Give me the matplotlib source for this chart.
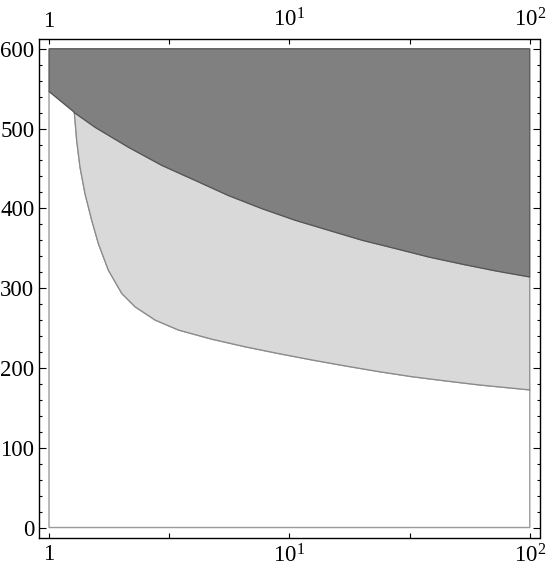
import numpy as np
import matplotlib
matplotlib.use("Agg")
import matplotlib.pyplot as plt

plt.rcParams['font.family'] = ['Liberation Serif', 'DejaVu Serif']
plt.rcParams['mathtext.fontset'] = 'custom'
plt.rcParams['mathtext.rm'] = 'Liberation Serif'
plt.rcParams['mathtext.it'] = 'Liberation Serif:italic'

# Upper boundary (start of dark region)
upper_x = [1.0, 1.262, 1.275, 1.555, 2.140, 2.949, 4.058, 5.586, 7.696, 10.59,
           14.58, 20.09, 27.65, 38.05, 52.44, 72.17, 100.0]
upper_y = [546.6, 521.6, 520.0, 501.6, 476.6, 453.8, 435, 416, 399.6, 385,
           372.5, 360, 349.6, 339, 330, 321.6, 314]

# Lower boundary (start of light region)
lower_x = [1.275, 1.304, 1.346, 1.413, 1.506, 1.605, 1.766, 2.009, 2.282, 2.765,
           3.458, 4.764, 6.556, 9.024, 12.43, 17.12, 23.56, 32.45, 44.67, 61.49, 100.0]
lower_y = [520.0, 485, 451.6, 418, 385, 355.8, 322.5, 293.3, 276.6, 260,
           247.5, 236, 226.5, 218, 210, 202.5, 195.4, 189, 183.75, 178.75, 172.5]

y_top = 600
y_bottom = 0
x_min, x_max = 1.0, 100.0

x_ticks = [1, 10**0.5, 10, 10**1.5, 100]
x_tick_labels = ['1', '', r'$10^{1}$', '', r'$10^{2}$']
y_major = [0, 100, 200, 300, 400, 500, 600]
y_labels = ['0', '100', '200', '300', '400', '500', '600']

fig = plt.figure(figsize=(5.47, 5.78), dpi=100)
ax = fig.add_axes([39.3/547, 1-537.5/578, (539.5-39.3)/547, (537.5-38.8)/578])

ux = np.array(upper_x); uy = np.array(upper_y)
lx = np.array(lower_x); ly = np.array(lower_y)

# white region
k = np.searchsorted(ux, lx[0])
wx = np.concatenate([[x_min], ux[:k], lx, [x_max, x_min]])
wy = np.concatenate([[y_bottom], uy[:k], ly, [y_bottom, y_bottom]])
ax.fill(wx, wy, facecolor='white', edgecolor='#9a9a9a', linewidth=1.0, zorder=1)

# light region
m = ux >= lx[0]
gx = np.concatenate([lx, ux[m][::-1]])
gy = np.concatenate([ly, uy[m][::-1]])
ax.fill(gx, gy, facecolor='#d9d9d9', edgecolor='#8a8a8a', linewidth=0.9, zorder=2)

# dark region
dx = np.concatenate([ux, [x_max, x_min]])
dy = np.concatenate([uy, [y_top, y_top]])
ax.fill(dx, dy, facecolor='#808080', edgecolor='#555555', linewidth=0.9, zorder=3)

ax.set_xscale('log')
pad_dec = 9.7/240
ax.set_xlim(10**(-pad_dec), 10**(2+pad_dec))
ax.set_ylim(-12.5, 612.5)

ax.set_xticks(x_ticks)
ax.set_xticklabels(x_tick_labels)
ax.xaxis.set_minor_locator(matplotlib.ticker.NullLocator())
ax.set_yticks(y_major)
ax.set_yticklabels(y_labels)
ax.set_yticks(np.arange(0, 601, 20), minor=True)

ax.tick_params(axis='x', which='both', direction='in', length=3.5, width=0.8,
               top=True, bottom=True, labeltop=True, labelbottom=True,
               labelsize=16.5, pad=5)
ax.tick_params(axis='y', which='major', direction='in', length=5, width=0.8,
               left=True, right=True, labelsize=16.5, pad=3.5)
ax.tick_params(axis='y', which='minor', direction='in', length=2.5, width=0.8,
               left=True, right=True)
for s in ax.spines.values():
    s.set_linewidth(1.0)
    s.set_color('black')

fig.savefig('out.png', dpi=100)
